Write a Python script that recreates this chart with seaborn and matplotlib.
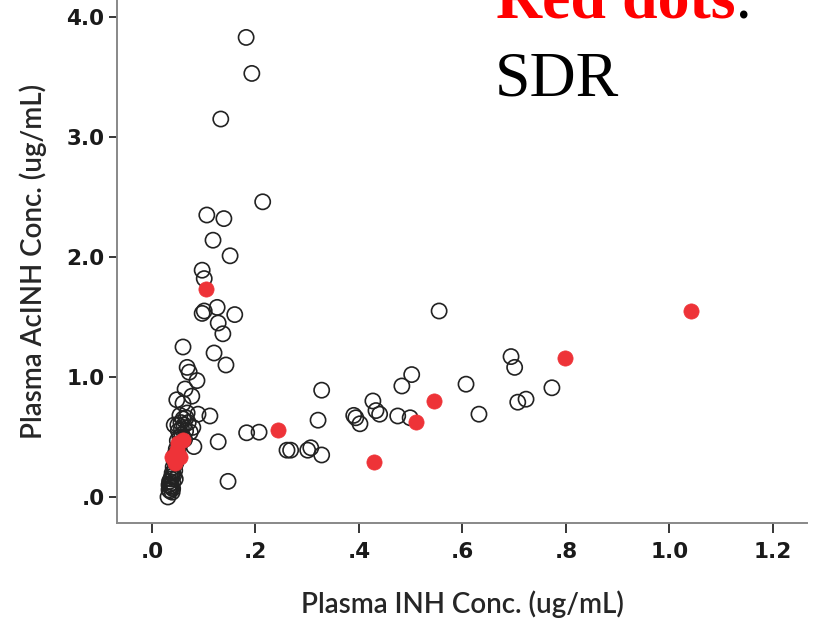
import numpy as np
import pandas as pd
import matplotlib
matplotlib.use("Agg")
import matplotlib.pyplot as plt
import seaborn as sns

# hollow circles (other subjects): INH conc, AcINH conc
other_inh = [0.182, 0.193, 0.133, 0.214, 0.106, 0.139, 0.118, 0.151, 0.097, 0.101,
             0.126, 0.097, 0.101, 0.160, 0.128, 0.137, 0.060, 0.120, 0.143, 0.068,
             0.072, 0.087, 0.064, 0.077, 0.048, 0.060, 0.089, 0.112, 0.054, 0.068,
             0.043, 0.079, 0.074, 0.128, 0.081, 0.147, 0.031,
             0.035, 0.038, 0.033, 0.040, 0.037, 0.042, 0.039, 0.044, 0.041, 0.046,
             0.043, 0.048, 0.045, 0.050, 0.047, 0.052, 0.055, 0.049, 0.054, 0.058,
             0.051, 0.057, 0.062, 0.056, 0.060, 0.065, 0.063, 0.036, 0.040, 0.034,
             0.045, 0.038, 0.050, 0.066, 0.070, 0.033, 0.036, 0.039,
             0.555, 0.694, 0.701, 0.502, 0.483, 0.607, 0.773, 0.328, 0.427, 0.433,
             0.440, 0.390, 0.394, 0.402, 0.475, 0.499, 0.632, 0.707, 0.723, 0.321,
             0.183, 0.207, 0.261, 0.268, 0.301, 0.307, 0.328]
other_acinh = [3.83, 3.53, 3.15, 2.46, 2.35, 2.32, 2.14, 2.01, 1.89, 1.82,
               1.58, 1.53, 1.55, 1.52, 1.45, 1.36, 1.25, 1.20, 1.10, 1.08,
               1.04, 0.97, 0.90, 0.84, 0.81, 0.78, 0.69, 0.675, 0.68, 0.70,
               0.60, 0.58, 0.54, 0.46, 0.42, 0.13, 0.00,
               0.05, 0.08, 0.10, 0.12, 0.15, 0.18, 0.20, 0.22, 0.25, 0.28,
               0.30, 0.33, 0.36, 0.38, 0.40, 0.42, 0.45, 0.47, 0.50, 0.52,
               0.55, 0.57, 0.60, 0.62, 0.65, 0.55, 0.48, 0.09, 0.07, 0.13,
               0.15, 0.17, 0.60, 0.66, 0.62, 0.06, 0.11, 0.04,
               1.55, 1.17, 1.08, 1.02, 0.925, 0.94, 0.91, 0.89, 0.80, 0.72,
               0.69, 0.68, 0.66, 0.61, 0.675, 0.66, 0.69, 0.79, 0.815, 0.64,
               0.535, 0.54, 0.39, 0.39, 0.39, 0.41, 0.35]

# red dots (SDR)
sdr_inh = [0.104, 0.243, 0.429, 0.510, 0.545, 0.798, 1.042,
           0.050, 0.060, 0.039, 0.054, 0.044, 0.048]
sdr_acinh = [1.73, 0.56, 0.29, 0.625, 0.80, 1.16, 1.55,
             0.45, 0.475, 0.33, 0.33, 0.28, 0.39]

xticks = [0.0, 0.2, 0.4, 0.6, 0.8, 1.0, 1.2]
yticks = [0.0, 1.0, 2.0, 3.0, 4.0]

other = pd.DataFrame({"inh": other_inh, "acinh": other_acinh})
sdr = pd.DataFrame({"inh": sdr_inh, "acinh": sdr_acinh})

sns.set_style("white")
plt.rcParams["font.family"] = ["DejaVu Sans"]

fig = plt.figure(figsize=(8.13, 6.21), dpi=100)
ax = fig.add_axes([0.1439, 0.1578, 0.8487, 0.8422])

sns.scatterplot(data=other, x="inh", y="acinh", ax=ax, s=120, marker="o",
                facecolor="none", edgecolor="#222222", linewidth=1.2, zorder=2)
sns.scatterplot(data=sdr, x="inh", y="acinh", ax=ax, s=120, marker="o",
                color="#ee3338", edgecolor="#ee3338", linewidth=0.5, zorder=3)

ax.set_xlim(-0.0676, 1.266)
ax.set_ylim(-0.217, 4.142)

def fmt(v):
    s = f"{v:.1f}"
    return s[1:] if s.startswith("0") else s

ax.set_xticks(xticks)
ax.set_xticklabels([fmt(v) for v in xticks])
ax.set_yticks(yticks)
ax.set_yticklabels([fmt(v) for v in yticks])
ax.tick_params(axis="both", direction="out", length=6, width=1.1, color="black",
               labelcolor="#1a1a1a", labelsize=15.5, pad=3, bottom=True, left=True)
ax.tick_params(axis="x", length=7, pad=7)
for lab in ax.get_xticklabels() + ax.get_yticklabels():
    lab.set_fontweight("bold")

sns.despine(ax=ax)
for side in ["left", "bottom"]:
    ax.spines[side].set_color("#888888")
    ax.spines[side].set_linewidth(1.4)

ax.set_xlabel("Plasma INH Conc. (ug/mL)", fontsize=20, family="Lato",
              fontweight="semibold", labelpad=20)
ax.set_ylabel("Plasma AcINH Conc. (ug/mL)", fontsize=20, family="Lato",
              fontweight="semibold", labelpad=14)

t = fig.text(496 / 813, 1 - 17 / 621, "Red dots", color="red", fontsize=46,
             family="Liberation Serif", fontweight="bold", va="baseline")
ax.annotate(":", xy=(1, 0), xycoords=t, va="bottom", ha="left", fontsize=46,
            family="Liberation Serif", color="black")
fig.text(495 / 813, 1 - 95 / 621, "SDR", color="black", fontsize=46,
         family="Liberation Serif", va="baseline")

fig.savefig("out.png", dpi=100)
